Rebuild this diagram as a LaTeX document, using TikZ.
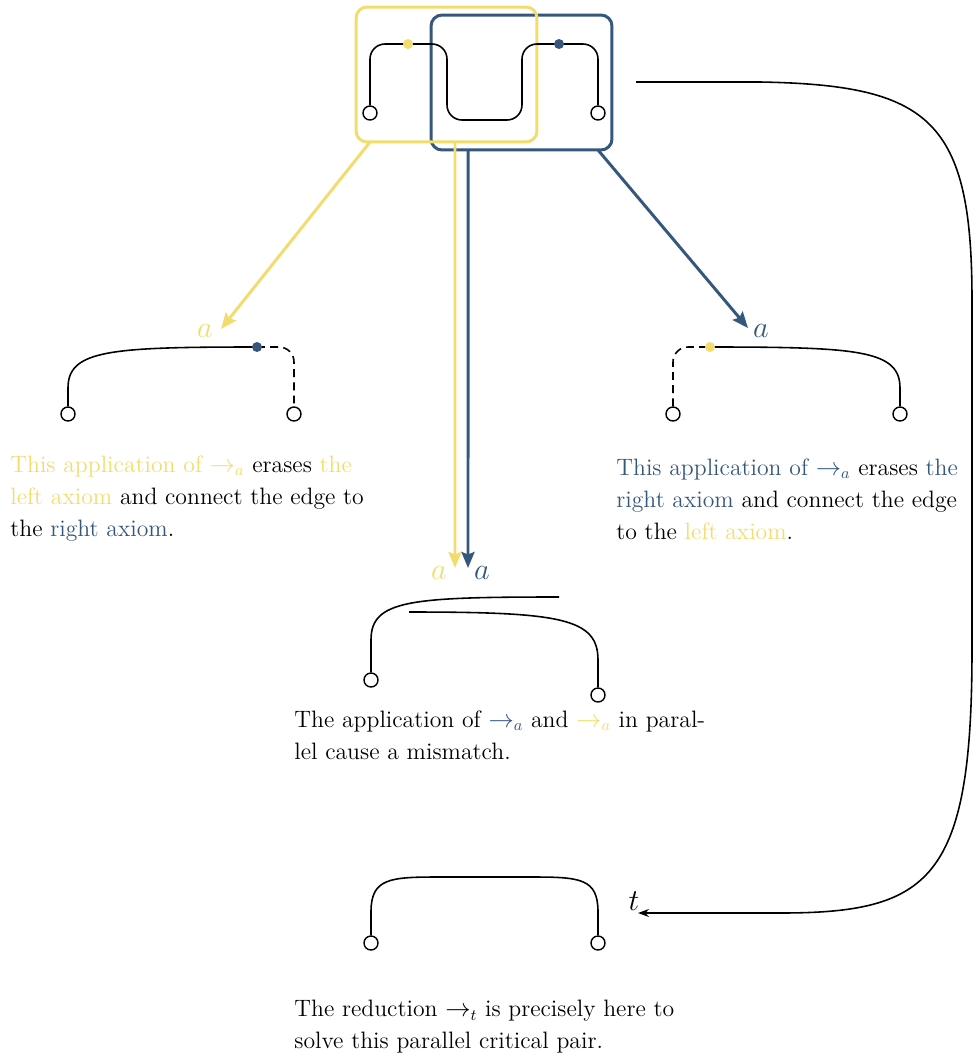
\documentclass[tikz,border=0pt]{standalone}
\usepackage{amsmath}
\usepackage{tikz}
\usetikzlibrary{arrows.meta}
\definecolor{ylw}{HTML}{F2DC6E}
\definecolor{blu}{HTML}{36577C}

\tikzset{
  wire/.style={black, line width=0.9pt},
  dashwire/.style={black, line width=0.9pt, dash pattern=on 4.5pt off 3pt},
  port/.style={circle, draw=black, fill=white, line width=0.8pt, minimum size=0.28cm, inner sep=0pt},
  ydot/.style={circle, fill=ylw, minimum size=0.2cm, inner sep=0pt},
  bdot/.style={circle, fill=blu, minimum size=0.2cm, inner sep=0pt},
  redex/.style={rounded corners=0.22cm, line width=1.7pt, outer sep=0pt, minimum width=3.62cm, minimum height=2.7cm},
  yarr/.style={ylw, line width=1.7pt, -{Stealth[length=0.32cm, width=0.26cm, inset=0.05cm]}},
  barr/.style={blu, line width=1.7pt, -{Stealth[length=0.32cm, width=0.26cm, inset=0.05cm]}},
  note/.style={anchor=north west, inner sep=0pt, align=left, font=\fontsize{13.5}{18.2}\selectfont},
  lbl/.style={inner sep=0pt, font=\fontsize{17}{20}\selectfont}
}

\begin{document}
\begin{tikzpicture}[x=0.02cm, y=-0.02cm]
\useasboundingbox (0,0) rectangle (976,1059);

% the two redexes
\node[redex, draw=blu] (bbox) at (521.5,82.5) {};
\node[redex, draw=ylw] (ybox) at (446.5,74.5) {};

% top net
\node[port] (p1) at (370,113) {};
\node[port] (p2) at (598,113) {};
\draw[wire, rounded corners=0.3cm] (p1) -- (370,44) -- (447,44) -- (447,120) -- (522,120) -- (522,44) -- (598,44) -- (p2);
\node[ydot] (yd) at (408,44) {};
\node[bdot] (bd) at (559,44) {};

% left reduct
\node[port] (l1) at (68,414) {};
\node[port] (l2) at (294,414) {};
\coordinate (ldc) at (257,347);
\draw[wire] (l1) -- (68,388) .. controls (68,350) and (110,347) .. (ldc);
\draw[dashwire, rounded corners=0.3cm] (ldc) -- (294,347) -- (l2);
\node[bdot] (ld) at (ldc) {};

% right reduct
\node[port] (r1) at (673,414) {};
\node[port] (r2) at (900,414) {};
\coordinate (rdc) at (710,347);
\draw[dashwire, rounded corners=0.3cm] (r1) -- (673,347) -- (rdc);
\draw[wire] (rdc) .. controls (858,347) and (900,350) .. (900,388) -- (r2);
\node[ydot] (rd) at (rdc) {};

% mismatch
\node[port] (m1) at (371,680) {};
\node[port] (m2) at (598,695) {};
\coordinate (m1end) at (559,597);
\coordinate (m2end) at (409,612);
\draw[wire] (m1) -- (371,640) .. controls (371,600) and (410,597) .. (m1end);
\draw[wire] (m2end) .. controls (560,612) and (598,618) .. (598,660) -- (m2);

% solved
\node[port] (n1) at (371,943) {};
\node[port] (n2) at (598,943) {};
\draw[wire] (n1) -- (371,912) .. controls (371,878) and (390,877) .. (440,877) -- (530,877) .. controls (580,877) and (598,878) .. (598,912) -- (n2);

% reductions
\coordinate (ya) at (221,329);
\draw[yarr] ([xshift=0.28cm]ybox.south west) -- (ya);
\node[lbl, text=ylw] (yal) at (205,331) {$a$};
\coordinate (ba) at (748,328);
\draw[barr] ([xshift=-0.28cm]bbox.south east) -- (ba);
\node[lbl, text=blu] (bal) at (761,331) {$a$};
\coordinate (yv) at (455,568);
\draw[yarr] ([xshift=0.17cm]ybox.south) -- (yv);
\node[lbl, text=ylw] (yvl) at (439,573) {$a$};
\coordinate (bv) at (468,568);
\draw[barr] ([xshift=0.74cm]bbox.south west) -- (bv);
\node[lbl, text=blu] (bvl) at (482,573) {$a$};

\coordinate (tstart) at (636,82);
\coordinate (ttip) at (638,913);
\draw[wire, -{Stealth[length=0.22cm, width=0.16cm]}] (tstart) -- (760,82) .. controls (930,85) and (972,120) .. (972,300) -- (972,650) .. controls (972,880) and (930,913) .. (780,913) -- (ttip);
\node[lbl] (tl) at (634,901) {$t$};

% comments
\node[note] (ltext) at (10,455) {\textcolor{ylw}{This application of $\rightarrow_a$} erases \textcolor{ylw}{the}\\
  \textcolor{ylw}{left axiom} and connect the edge to\\
  the \textcolor{blu}{right axiom}.};
\node[note] (rtext) at (616,458) {\textcolor{blu}{This application of $\rightarrow_a$} erases \textcolor{blu}{the}\\
  \textcolor{blu}{right axiom} and connect the edge\\
  to the \textcolor{ylw}{left axiom}.};
\node[note] (mtext) at (294,710) {The application of \textcolor{blu}{$\rightarrow_a$} and \textcolor{ylw}{$\rightarrow_a$} in paral-\\
  lel cause a mismatch.};
\node[note] (ntext) at (294,1000) {The reduction $\rightarrow_t$ is precisely here to\\
  solve this parallel critical pair.};
\end{tikzpicture}
\end{document}
